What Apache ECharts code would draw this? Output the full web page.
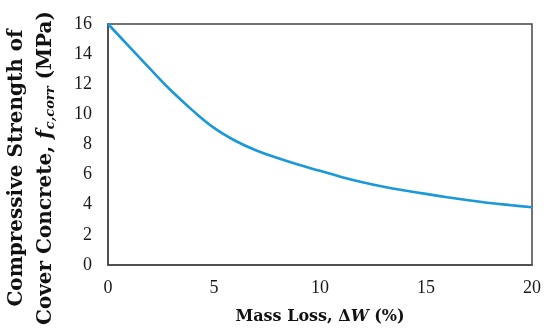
<!DOCTYPE html>
<html>
<head>
<meta charset="utf-8">
<script src="https://cdn.jsdelivr.net/npm/echarts@6/dist/echarts.min.js"></script>
<style>
html,body{margin:0;padding:0;background:#fff;}
#chart{width:550px;height:336px;}
</style>
</head>
<body>
<div id="chart"></div>
<script>
var massLoss = [0, 1, 2, 3, 4, 5, 6, 7, 8, 9, 10, 11, 12, 13, 14, 15, 16, 17, 18, 19, 20];
var strength = [16, 14.5, 13.0, 11.55, 10.25, 9.1, 8.25, 7.6, 7.1, 6.65, 6.25, 5.85, 5.5, 5.2, 4.95, 4.72, 4.5, 4.3, 4.12, 3.97, 3.83];
var xTicks = [0, 5, 10, 15, 20];
var yTicks = [0, 2, 4, 6, 8, 10, 12, 14, 16];

var serif = '"Liberation Serif", "DejaVu Serif", serif';
var wide = '"DejaVu Serif", serif';
var chart = echarts.init(document.getElementById('chart'));
var pts = massLoss.map(function (x, i) { return [x, strength[i]]; });

chart.setOption({
  animation: false,
  grid: { left: 108, right: 18, top: 24, bottom: 71, show: true, borderColor: '#454545', borderWidth: 1.5, backgroundColor: 'transparent' },
  xAxis: {
    type: 'value', min: xTicks[0], max: xTicks[xTicks.length - 1], interval: 5,
    axisLine: { show: true, lineStyle: { color: '#454545', width: 1.5 } },
    axisTick: { show: false }, splitLine: { show: false },
    axisLabel: { color: '#1a1a1a', fontFamily: serif, fontSize: 18, margin: 14 },
    name: '{b|Mass Loss, Δ}{bi|W}{b| (%)}', nameLocation: 'middle', nameGap: 44,
    nameTextStyle: { rich: {
      b: { fontFamily: wide, fontWeight: 'bold', fontSize: 16, color: '#111' },
      bi: { fontFamily: wide, fontWeight: 'bold', fontStyle: 'italic', fontSize: 16, color: '#111' }
    } }
  },
  yAxis: {
    type: 'value', min: yTicks[0], max: yTicks[yTicks.length - 1], interval: 2,
    axisLine: { show: true, lineStyle: { color: '#454545', width: 1.5 } },
    axisTick: { show: false }, splitLine: { show: false },
    axisLabel: { color: '#1a1a1a', fontFamily: serif, fontSize: 18, margin: 16 }
  },
  graphic: [
    {
      type: 'text', x: 17, y: 168, rotation: Math.PI / 2,
      style: { text: 'Compressive Strength of', fontFamily: wide, fontWeight: 'bold', fontSize: 20, fill: '#111', align: 'center', verticalAlign: 'middle' }
    },
    {
      type: 'text', x: 46, y: 168, rotation: Math.PI / 2,
      style: {
        text: '{b|Cover Concrete, }{bi|f}{sub|c,corr}{b| (MPa)}',
        align: 'center', verticalAlign: 'middle',
        rich: {
          b: { fontFamily: wide, fontWeight: 'bold', fontSize: 20, fill: '#111' },
          bi: { fontFamily: wide, fontWeight: 'bold', fontStyle: 'italic', fontSize: 20, fill: '#111' },
          sub: { fontFamily: wide, fontWeight: 'bold', fontStyle: 'italic', fontSize: 13, fill: '#111', padding: [9, 0, 0, 1] }
        }
      }
    }
  ],
  series: [{
    type: 'line', data: pts, smooth: 0.4, showSymbol: false,
    lineStyle: { color: '#1b98d8', width: 2.6 }
  }]
});
</script>
</body>
</html>
